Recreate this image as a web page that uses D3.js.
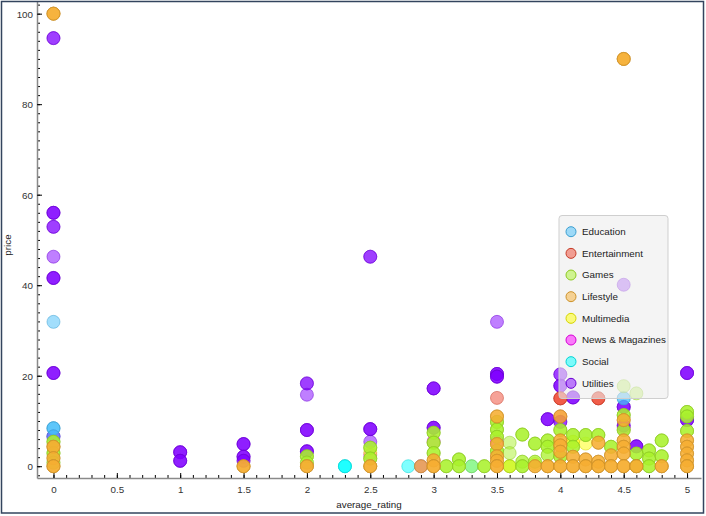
<!DOCTYPE html>
<html>
<head>
<meta charset="utf-8">
<title>price vs average_rating</title>
<script src="https://cdn.jsdelivr.net/npm/d3@7"></script>
<style>
    body { margin: 0; background: #fff; }
    svg { display: block; font-family: "Liberation Sans", Arial, sans-serif; }
    .axis path { stroke: #8a8a8a; stroke-width: 1.5; }
    .axis .major line { stroke: #111; stroke-width: 1.5; }
    .axis .minor line { stroke: #9a9a9a; stroke-width: 1; }
    .axis text { font-size: 9.8px; fill: #333; }
    .title { font-size: 9.8px; fill: #222; }
    .legend text { font-size: 9.8px; fill: #222; }
</style>
</head>
<body>
<script>
var width = 706;
var height = 516;

var categories = ["Education", "Entertainment", "Games", "Lifestyle", "Multimedia", "News & Magazines", "Social", "Utilities"];
var colors = ["#46befa", "#ed462f", "#aaf22b", "#f5ae32", "#ffff00", "#ff00ff", "#00ffff", "#8000ff"];

// [average_rating, price, overlapping apps]
var education = [[0, 8.4, 3], [0, 6.6, 1], [0, 31.9, 1], [4.5, 15, 2]];
var entertainment = [[3.5, 15.1, 1], [4, 15, 3], [4, 11, 1], [4.3, 15, 3]];
var games = [
    [0, 5.4, 3], [0, 2.9, 3], [0, 0.8, 2],
    [2, 2.2, 3], [2, 0.8, 2],
    [2.5, 4.1, 3], [2.5, 1.7, 3],
    [3, 7.4, 3], [3, 5.2, 3], [3, 2.9, 3],
    [3.1, 0, 3], [3.2, 1.5, 3], [3.2, 0, 3], [3.3, 0, 1], [3.4, 0, 3],
    [3.5, 9.8, 3], [3.5, 8.1, 3], [3.5, 6.5, 3], [3.5, 3.4, 3],
    [3.6, 5.2, 1], [3.6, 2.9, 1], [3.6, 0, 1],
    [3.7, 7, 3], [3.7, 1, 2], [3.7, 0, 3],
    [3.8, 5, 3], [3.8, 1, 2],
    [3.9, 5.7, 3], [3.9, 4.3, 3], [3.9, 2.5, 2],
    [4, 8, 3], [4, 2.1, 3],
    [4.1, 6.9, 3], [4.1, 4.3, 3], [4.2, 6.9, 3], [4.3, 6.9, 3], [4.4, 4.3, 3],
    [4.5, 17.7, 1], [4.6, 16.1, 1], [4.5, 11.3, 3], [4.5, 8, 3],
    [4.6, 2.8, 3], [4.6, 0, 2],
    [4.7, 3.5, 3], [4.7, 1.7, 3], [4.7, 0, 3],
    [4.8, 5.7, 3], [4.8, 2.2, 3],
    [5, 12, 3], [5, 11, 3], [5, 7.8, 3]
];
var lifestyle = [
    [0, 100, 4], [0, 4.3, 4], [0, 1.8, 3], [0, 0, 4],
    [1.5, 0, 4], [2, 0, 4], [2.5, 0, 4], [2.9, 0, 2],
    [3, 1.3, 3], [3, 0, 4],
    [3.5, 11, 3], [3.5, 4.9, 3], [3.5, 2.2, 3], [3.5, 1.2, 3], [3.5, 0, 4],
    [3.8, 0, 3], [3.9, 0, 4],
    [4, 11, 2], [4, 5.7, 3], [4, 4.6, 3], [4, 3.2, 3], [4, 0, 4],
    [4.1, 2.1, 3], [4.1, 0, 4], [4.2, 1.5, 3], [4.2, 0, 4],
    [4.3, 5.2, 3], [4.3, 1, 3], [4.3, 0, 4], [4.4, 2.4, 3], [4.4, 0, 4],
    [4.5, 90, 4], [4.5, 10.2, 3], [4.5, 5.7, 3], [4.5, 4.3, 3], [4.5, 2.8, 3], [4.5, 0, 4],
    [4.6, 0, 4], [4.8, 0, 4],
    [5, 5.7, 3], [5, 4.3, 3], [5, 2.8, 3], [5, 1.3, 3], [5, 0, 4]
];
var multimedia = [[2.5, 3, 1], [3.6, 0, 2], [4.1, 5.4, 2], [4.2, 5, 1], [3.8, 0.5, 1]];
var news = [[3, 5.5, 1], [4.5, 8.5, 1], [2.5, 2.5, 1], [3.5, 5.5, 1]];
var social = [[2.3, 0, 3], [2.8, 0, 1], [3.3, 0, 1]];
var utilities = [
    [0, 94.6, 2], [0, 56, 3], [0, 52.9, 2], [0, 46.3, 1], [0, 41.6, 3], [0, 20.6, 3], [0, 6.6, 2],
    [1, 3.1, 3], [1, 1.2, 3],
    [1.5, 4.9, 3], [1.5, 2.1, 3], [1.5, 1.2, 2],
    [2, 18.3, 2], [2, 15.8, 1], [2, 8, 3], [2, 3.3, 3],
    [2.5, 46.3, 2], [2.5, 8.2, 3], [2.5, 5.4, 1],
    [2.9, 0, 1],
    [3, 17.2, 3], [3, 8.5, 3],
    [3.5, 31.9, 1], [3.5, 20.4, 3], [3.5, 19.8, 3],
    [3.9, 10.4, 3],
    [4, 20.3, 2], [4, 17.8, 3], [4, 9.8, 2], [4.1, 15.2, 3],
    [4.5, 40.1, 1], [4.5, 13.1, 3], [4.5, 9, 2],
    [4.6, 4.4, 3],
    [5, 20.6, 3], [5, 10.2, 3]
];

var xTicks = [0, 0.5, 1, 1.5, 2, 2.5, 3, 3.5, 4, 4.5, 5];
var yTicks = [0, 20, 40, 60, 80, 100];

// drawing order: first ones end up underneath
var layers = [
    ["News & Magazines", news], ["Utilities", utilities], ["Education", education],
    ["Entertainment", entertainment], ["Social", social], ["Multimedia", multimedia],
    ["Games", games], ["Lifestyle", lifestyle]
];

var color = d3.scaleOrdinal().domain(categories).range(colors);

var x = d3.scaleLinear().domain([-0.13, 5.11]).range([37, 701]);
var y = d3.scaleLinear().domain([-2.6, 102.8]).range([478, 1]);

var svg = d3.select("body").append("svg")
    .attr("width", width)
    .attr("height", height);

svg.append("rect")
    .attr("x", 0).attr("y", 0)
    .attr("width", width).attr("height", height)
    .attr("fill", "#fff");

// minor ticks
svg.append("g").attr("class", "axis minor")
    .attr("transform", "translate(0,478)")
    .call(d3.axisBottom(x).tickValues(d3.range(0, 51).map(function(i) { return i / 10; })).tickSize(-3).tickFormat(""))
    .select("path").remove();
svg.append("g").attr("class", "axis minor")
    .attr("transform", "translate(37,0)")
    .call(d3.axisLeft(y).tickValues(d3.range(-1, 52).map(function(i) { return i * 2; })).tickSize(-3).tickFormat(""))
    .select("path").remove();

// major ticks + labels
svg.append("g").attr("class", "axis major")
    .attr("transform", "translate(0,478)")
    .call(d3.axisBottom(x).tickValues(xTicks).tickSize(-5).tickPadding(4).tickSizeOuter(0).tickFormat(d3.format("")));
svg.append("g").attr("class", "axis major")
    .attr("transform", "translate(37,0)")
    .call(d3.axisLeft(y).tickValues(yTicks).tickSize(-5).tickPadding(4).tickSizeOuter(0));

svg.selectAll(".axis.major text").attr("dy", null);
svg.selectAll(".axis.major").filter(function(d, i) { return i == 0; })
    .selectAll("text").attr("y", 14.5);
svg.selectAll(".axis.major").filter(function(d, i) { return i == 1; })
    .selectAll("text").attr("x", -4).attr("dy", "0.34em");

// points
var pts = svg.append("g");
layers.forEach(function(l) {
    var c = color(l[0]);
    var flat = [];
    l[1].forEach(function(p) {
        for (var k = 0; k < p[2]; k++) flat.push(p);
    });
    pts.selectAll(null)
        .data(flat)
        .enter()
        .append("circle")
        .attr("cx", function(d) { return x(d[0]); })
        .attr("cy", function(d) { return y(d[1]); })
        .attr("r", 6.5)
        .attr("fill", c)
        .attr("fill-opacity", 0.5)
        .attr("stroke", d3.color(c).darker(0.5))
        .attr("stroke-opacity", 0.5)
        .attr("stroke-width", 1);
});

// axis titles
svg.append("text").attr("class", "title")
    .attr("x", 369).attr("y", 508)
    .attr("text-anchor", "middle")
    .text("average_rating");
svg.append("text").attr("class", "title")
    .attr("transform", "translate(11,245) rotate(-90)")
    .attr("text-anchor", "middle")
    .text("price");

// legend
var legend = svg.append("g").attr("class", "legend");
legend.append("rect")
    .attr("x", 559).attr("y", 215.5)
    .attr("width", 109).attr("height", 183)
    .attr("rx", 3)
    .attr("fill", "rgb(236,236,236)")
    .attr("fill-opacity", 0.6)
    .attr("stroke", "#cfcfcf");

var item = legend.selectAll(".item")
    .data(categories)
    .enter()
    .append("g")
    .attr("class", "item")
    .attr("transform", function(d, i) { return "translate(571," + (231.7 + i * 21.66) + ")"; });
item.append("circle")
    .attr("r", 5)
    .attr("fill", function(d) { return color(d); })
    .attr("fill-opacity", 0.5)
    .attr("stroke", function(d) { return d3.color(color(d)).darker(0.5); })
    .attr("stroke-width", 1);
item.append("text")
    .attr("x", 11)
    .attr("dy", "0.35em")
    .text(function(d) { return d; });

// outer frame
svg.append("rect")
    .attr("x", 1.5).attr("y", 1.5)
    .attr("width", 702).attr("height", 511.5)
    .attr("fill", "none")
    .attr("stroke", "#33445e")
    .attr("stroke-width", 1.5);
</script>
</body>
</html>
